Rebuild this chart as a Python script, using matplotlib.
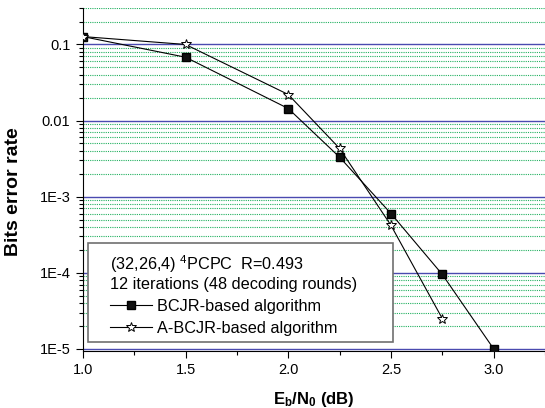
import matplotlib
matplotlib.use("Agg")
import matplotlib.pyplot as plt
from matplotlib.patches import Rectangle
from matplotlib.ticker import FixedLocator, NullFormatter


# values
EBN0_BCJR = [1.0, 1.5, 2.0, 2.25, 2.5, 2.75, 3.0]
BER_BCJR = [0.127, 0.068, 0.0144, 0.0033, 6.0e-4, 9.5e-5, 1.0e-5]
EBN0_ABCJR = [1.0, 1.5, 2.0, 2.25, 2.5, 2.75]
BER_ABCJR = [0.127, 0.10, 0.022, 0.0043, 4.2e-4, 2.5e-5]

X_TICKS = [1.0, 1.5, 2.0, 2.5, 3.0]
X_LABELS = ["1.0", "1.5", "2.0", "2.5", "3.0"]
Y_TICKS = [1e-5, 1e-4, 1e-3, 1e-2, 1e-1]
Y_LABELS = ["1E-5", "1E-4", "1E-3", "0.01", "0.1"]

plt.rcParams["font.family"] = ["Liberation Sans", "DejaVu Sans"]
plt.rcParams["mathtext.fontset"] = "custom"
plt.rcParams["mathtext.rm"] = "Liberation Sans"
plt.rcParams["mathtext.it"] = "Liberation Sans:italic"
plt.rcParams["mathtext.bf"] = "Liberation Sans:bold"

fig = plt.figure(figsize=(5.45, 4.08), dpi=100)
ax = fig.add_axes([0.152, 0.140, 0.848, 0.840])

# grid: blue at decades, green dotted in between
minor_y = [m * 10.0 ** e for e in range(-6, 0) for m in range(2, 10)]
ax.set_yscale("log")
ax.set_xlim(1.0, 3.24)
ax.set_ylim(9.4e-6, 0.3)
ax.yaxis.set_major_locator(FixedLocator(Y_TICKS))
ax.yaxis.set_minor_locator(FixedLocator(minor_y))
ax.yaxis.set_minor_formatter(NullFormatter())
ax.set_yticklabels(Y_LABELS)
ax.set_xticks(X_TICKS)
ax.set_xticklabels(X_LABELS)
ax.set_xticks([1.25, 1.75, 2.25, 2.75, 3.25], minor=True)
ax.grid(True, which="major", axis="y", color="#4a4ab0", lw=1.0)
ax.grid(True, which="minor", axis="y", color="#22b060", lw=0.8, ls=(0, (1, 1)))
ax.set_axisbelow(True)

ax.tick_params(which="major", direction="out", length=5, width=0.8, labelsize=10.5, pad=4)
ax.tick_params(which="minor", direction="out", length=3, width=0.8)
for side in ["top", "right"]:
    ax.spines[side].set_visible(False)

ax.plot(EBN0_BCJR, BER_BCJR, color="black", lw=0.8, marker="s", ms=5.5,
        mfc="#111111", mec="black", label="BCJR-based algorithm", zorder=3)
ax.plot(EBN0_ABCJR, BER_ABCJR, color="black", lw=0.8, marker="*", ms=7,
        mfc="white", mec="black", mew=0.7, label="A-BCJR-based algorithm", zorder=4)

ax.set_xlabel(r"$\mathbf{E_b/N_0}$ (dB)", fontsize=12, fontweight="bold", labelpad=9)
ax.set_ylabel("Bits error rate", fontsize=14, fontweight="bold")
ax.yaxis.set_label_coords(-0.132, 0.464)

# legend box drawn by hand, text inside a frameless legend
ax.add_patch(Rectangle((0.011, 0.026), 0.66, 0.289, transform=ax.transAxes,
                       facecolor="white", edgecolor="#707070", lw=1.2, zorder=5))
leg = ax.legend(loc="upper left", bbox_to_anchor=(0.058, 0.285), frameon=False,
                title="(32,26,4) $^4$PCPC  R=0.493\n12 iterations (48 decoding rounds)",
                alignment="left", fontsize=11.7, title_fontsize=11.7, handlelength=2.6,
                handletextpad=0.3, labelspacing=0.42, borderpad=0, borderaxespad=0)
leg.set_zorder(6)

fig.savefig("out.png", dpi=100)
